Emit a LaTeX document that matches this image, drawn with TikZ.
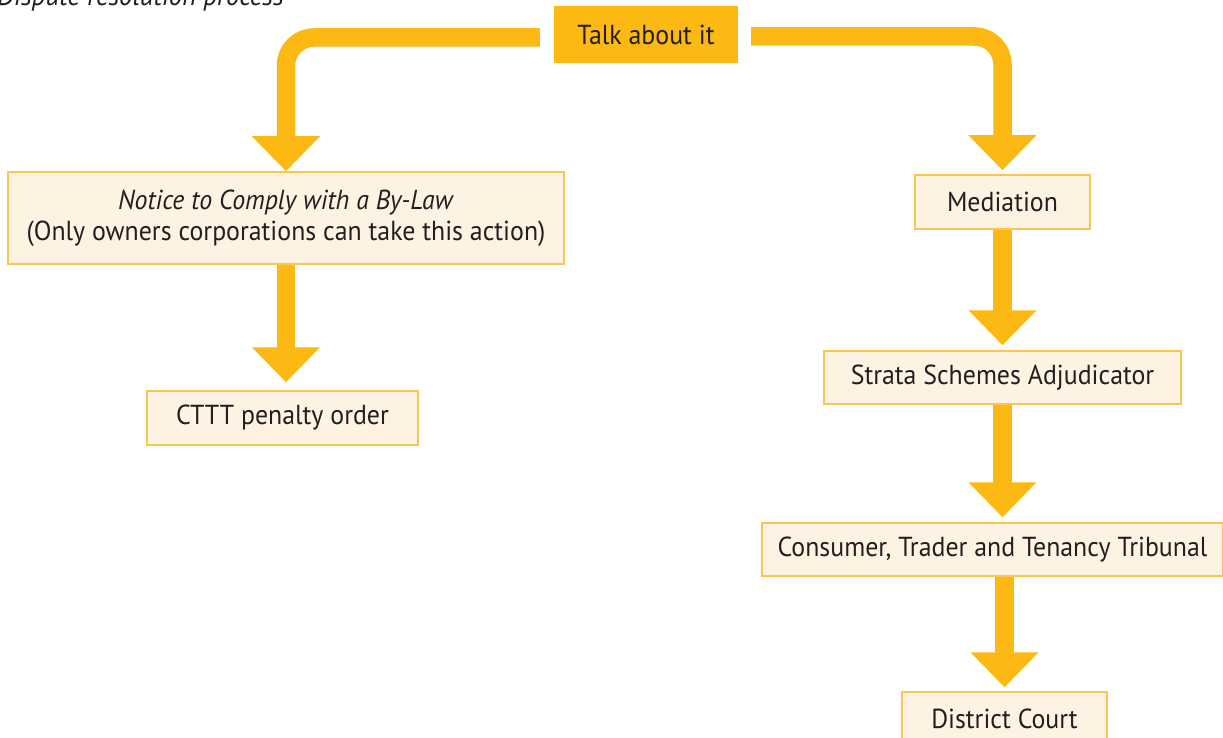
\documentclass[tikz,border=0pt]{standalone}
\usepackage{fontspec}
\setmainfont{PT Sans}[FakeStretch=0.94]
\usetikzlibrary{arrows.meta,calc}
\definecolor{org}{HTML}{FDB913}
\definecolor{boxfill}{HTML}{FEF3E2}
\definecolor{boxline}{HTML}{FDC550}
\definecolor{ink}{HTML}{231F20}
\begin{document}
\begin{tikzpicture}[x=1pt,y=-1pt,
  every node/.style={inner sep=0pt, text=ink, font=\fontsize{27.5}{31}\selectfont},
  lightbox/.style={draw=boxline, line width=1.5pt, fill=boxfill, align=center},
  talkbox/.style={fill=org},
  conn/.style={draw=org, line width=18.5pt, -{Triangle[width=66pt,length=35pt]}}]
\useasboundingbox (0,0) rectangle (1223,738);
\node[anchor=base east, font=\fontsize{28.6}{32}\selectfont\itshape] (title) at (284,5.5) {Dispute resolution process};
\node[talkbox, minimum width=184pt, minimum height=57pt] (talk) at (646,34.5) {Talk about it};
\node[lightbox, minimum width=556pt, minimum height=92pt] (notice) at (286,218)
  {\textit{Notice to Comply with a By-Law}\\(Only owners corporations can take this action)};
\node[lightbox, minimum width=271pt, minimum height=54pt] (cttt) at (282.5,418) {CTTT penalty order};
\node[lightbox, minimum width=175pt, minimum height=54pt] (med) at (1002.5,202) {Mediation};
\node[lightbox, minimum width=357pt, minimum height=53pt] (strata) at (1002.5,377.5) {Strata Schemes Adjudicator};
\node[lightbox, minimum width=461pt, minimum height=53pt] (ctt) at (992.5,549.5) {Consumer, Trader and Tenancy Tribunal};
\node[lightbox, minimum width=205pt, minimum height=54pt] (district) at (1004.5,719) {District Court};
\coordinate (lstart) at ($(talk.west)+(-14,3)$);
\coordinate (rstart) at ($(talk.east)+(13,2)$);
\draw[conn, rounded corners=28pt] (lstart) -| (notice.north);
\draw[conn, rounded corners=28pt, shorten >=4pt] (rstart) -| (med.north);
\draw[conn, shorten >=8pt] (notice.south) -- (notice.south |- cttt.north);
\draw[conn, shorten >=5pt] (med.south) -- (strata.north);
\draw[conn, shorten >=5pt] (strata.south) -- (strata.south |- ctt.north);
\draw[conn, shorten >=4pt] (district.north |- ctt.south) -- (district.north);
\end{tikzpicture}
\end{document}
